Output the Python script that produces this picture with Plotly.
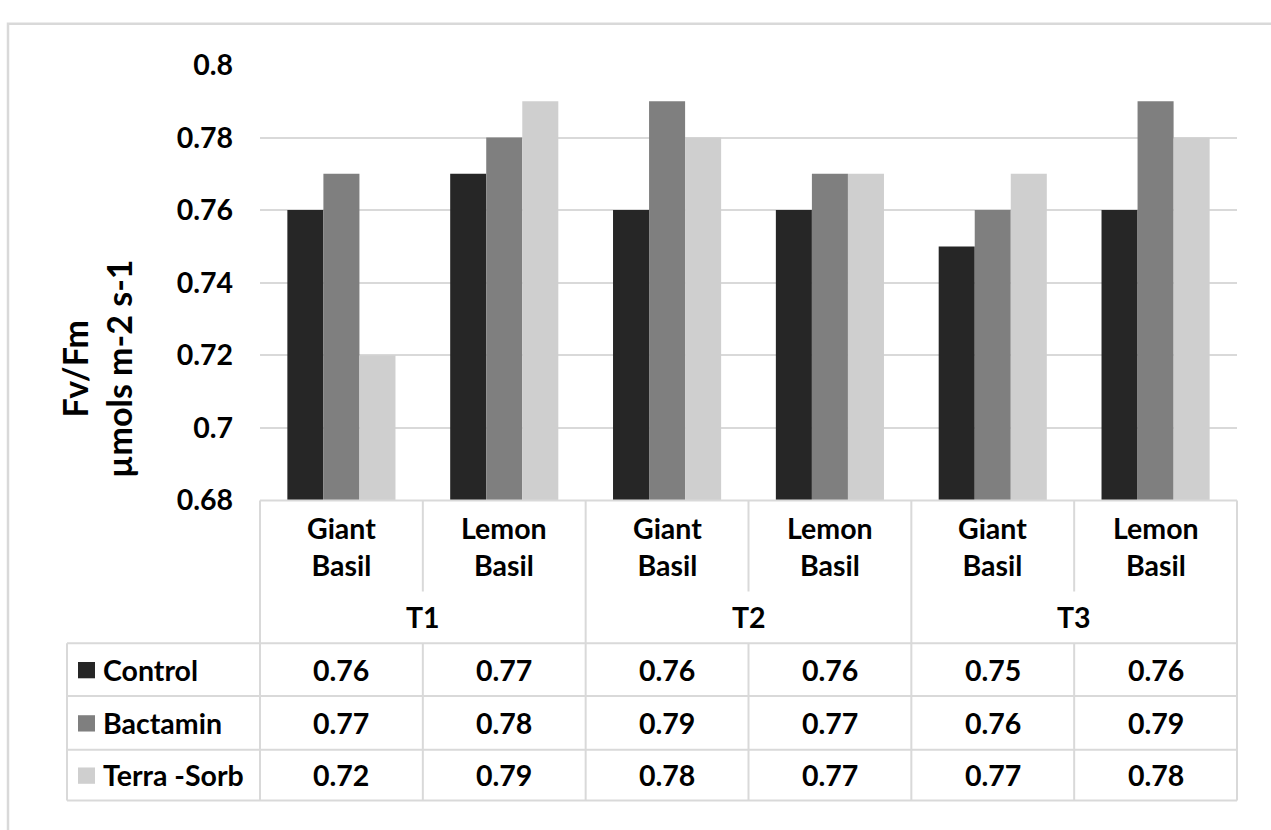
import plotly.graph_objects as go

# ---- data ----
groups = ["T1", "T2", "T3"]
cultivars = ["Giant Basil", "Lemon Basil"]
series_names = ["Control", "Bactamin", "Terra -Sorb"]
control = [0.76, 0.77, 0.76, 0.76, 0.75, 0.76]
bactamin = [0.77, 0.78, 0.79, 0.77, 0.76, 0.79]
terra_sorb = [0.72, 0.79, 0.78, 0.77, 0.77, 0.78]
y_ticks = [0.68, 0.70, 0.72, 0.74, 0.76, 0.78, 0.80]
y_tick_labels = ["0.68", "0.7", "0.72", "0.74", "0.76", "0.78", "0.8"]
y_title_lines = ["Fv/Fm", "µmols m-2 s-1"]

# ---- styling ----
W, H = 1271, 830
FONT = "Lato"
TEXT_SIZE = 28.5
TITLE_SIZE = 34
COLORS = ["#262626", "#7f7f7f", "#cfcfcf"]
GRID = "#d9d9d9"
TXT = "#000000"

PLOT_L, PLOT_R, PLOT_T, PLOT_B = 260, 1237, 49, 503
TABLE_L = 67
HEADER_SPLIT = 598      # end of the sub-category divider lines
ROW_TOPS = [652, 707, 763]
TABLE_BOTTOM = 816


def px(x):
    return x / W


def py(y):
    return 1 - y / H


def text_font(size=TEXT_SIZE):
    return dict(family=FONT, size=size, color=TXT, weight="bold")


series_values = [control, bactamin, terra_sorb]
n_cols = len(groups) * len(cultivars)
x_idx = list(range(n_cols))
col_w = (PLOT_R - PLOT_L) / n_cols

fig = go.Figure()
for name, vals, color in zip(series_names, series_values, COLORS):
    fig.add_trace(go.Bar(
        x=x_idx, y=vals, name=name,
        marker=dict(color=color, line=dict(width=0)),
        showlegend=False,
    ))

shapes = []
annotations = []
line_style = dict(color=GRID, width=2)

# outer frame of the chart
shapes.append(dict(type="rect", xref="paper", yref="paper",
                   x0=px(8), x1=px(W + 20), y0=py(H + 20), y1=py(6),
                   line=dict(color=GRID, width=2.5), layer="below"))

# data-table grid: horizontal lines
shapes.append(dict(type="line", xref="paper", yref="paper",
                   x0=px(PLOT_L), x1=px(PLOT_R), y0=py(PLOT_B), y1=py(PLOT_B),
                   line=line_style))
for yline in ROW_TOPS + [TABLE_BOTTOM]:
    shapes.append(dict(type="line", xref="paper", yref="paper",
                       x0=px(TABLE_L), x1=px(PLOT_R), y0=py(yline), y1=py(yline),
                       line=line_style))
# left edge of legend column
shapes.append(dict(type="line", xref="paper", yref="paper",
                   x0=px(TABLE_L), x1=px(TABLE_L), y0=py(ROW_TOPS[0]), y1=py(TABLE_BOTTOM),
                   line=line_style))
# vertical lines between columns
for b in range(n_cols + 1):
    xb = PLOT_L + b * col_w
    is_group_edge = b % len(cultivars) == 0
    top = PLOT_B if is_group_edge else ROW_TOPS[0]
    shapes.append(dict(type="line", xref="paper", yref="paper",
                       x0=px(xb), x1=px(xb), y0=py(top), y1=py(TABLE_BOTTOM),
                       line=line_style))
    if not is_group_edge:
        shapes.append(dict(type="line", xref="paper", yref="paper",
                           x0=px(xb), x1=px(xb), y0=py(PLOT_B), y1=py(HEADER_SPLIT),
                           line=line_style))

# category labels and group labels
for g, grp in enumerate(groups):
    for c, cult in enumerate(cultivars):
        i = g * len(cultivars) + c
        annotations.append(dict(
            x=i, xref="x", y=py(551), yref="paper",
            text=cult.replace(" ", "<br>"), showarrow=False,
            font=text_font(), xanchor="center", yanchor="middle"))
    annotations.append(dict(
        x=g * len(cultivars) + (len(cultivars) - 1) / 2, xref="x",
        y=py(625), yref="paper", text=grp, showarrow=False,
        font=text_font(), xanchor="center", yanchor="middle"))

# value rows with legend keys
for r, (name, vals, color) in enumerate(zip(series_names, series_values, COLORS)):
    top = ROW_TOPS[r]
    bottom = ROW_TOPS[r + 1] if r + 1 < len(ROW_TOPS) else TABLE_BOTTOM
    yc = (top + bottom) / 2
    shapes.append(dict(type="rect", xref="paper", yref="paper",
                       x0=px(78), x1=px(95), y0=py(yc + 9), y1=py(yc - 8),
                       fillcolor=color, line=dict(width=0)))
    annotations.append(dict(
        x=px(101), xref="paper", y=py(yc), yref="paper", text=name,
        showarrow=False, xanchor="left", yanchor="middle", font=text_font()))
    for i, v in enumerate(vals):
        annotations.append(dict(
            x=i, xref="x", y=py(yc), yref="paper", text=f"{v:.2f}",
            showarrow=False, xanchor="center", yanchor="middle",
            font=text_font()))

# y-axis title
annotations.append(dict(
    x=px(96), xref="paper", y=py(366), yref="paper",
    text="<br>".join(y_title_lines), textangle=-90, showarrow=False,
    xanchor="center", yanchor="middle", font=text_font(TITLE_SIZE)))

fig.update_layout(
    width=W, height=H,
    margin=dict(l=0, r=0, t=0, b=0),
    paper_bgcolor="white", plot_bgcolor="white",
    barmode="group", bargap=0.336, bargroupgap=0,
    xaxis=dict(domain=[px(PLOT_L), px(PLOT_R)], range=[-0.5, n_cols - 0.5],
               showticklabels=False, showgrid=False, zeroline=False,
               showline=False, ticks=""),
    yaxis=dict(domain=[py(PLOT_B), py(PLOT_T)], range=[y_ticks[0], y_ticks[-1]],
               tickvals=y_ticks, ticktext=y_tick_labels,
               showgrid=True, gridcolor=GRID, gridwidth=2,
               zeroline=False, showline=False, ticks="",
               ticklabelstandoff=26, tickfont=text_font()),
    shapes=shapes,
    annotations=annotations,
)

fig.write_html("out.html")
